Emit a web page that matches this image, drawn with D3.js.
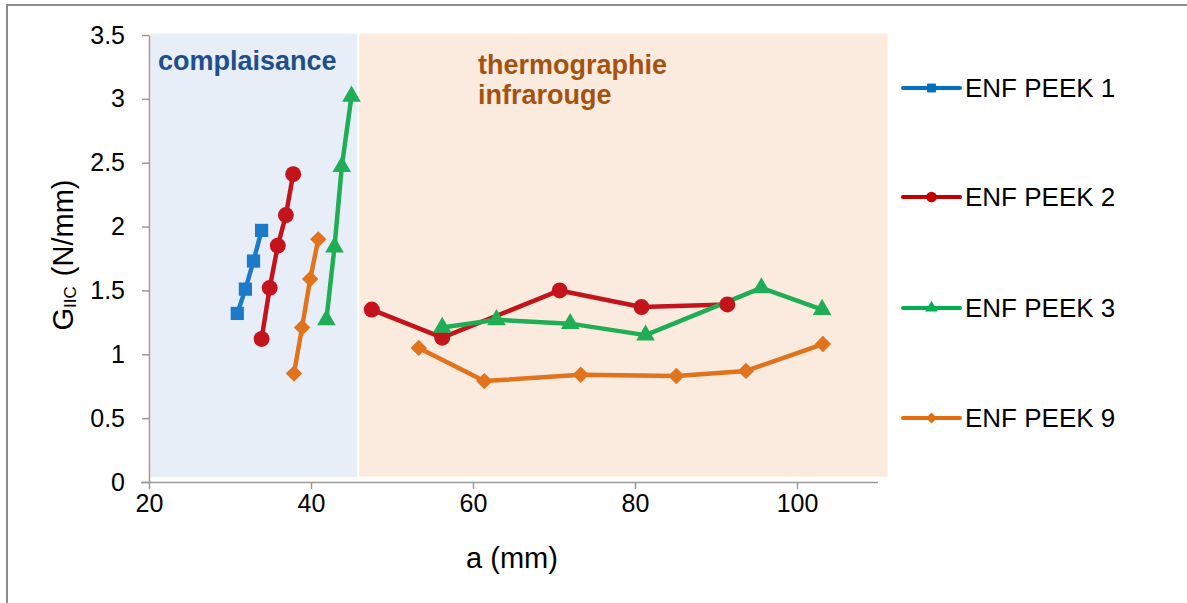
<!DOCTYPE html>
<html>
<head>
<meta charset="utf-8">
<script src="https://cdn.jsdelivr.net/npm/d3@7"></script>
<style>
  body { margin: 0; background: #fff; }
  text { font-family: "Liberation Sans", Arial, sans-serif; }
</style>
</head>
<body>
<div id="chart"></div>
<script>
// Data (a in mm, G_IIC in N/mm) - null splits compliance / thermography parts
const seriesNames = ['ENF PEEK 1', 'ENF PEEK 2', 'ENF PEEK 3', 'ENF PEEK 9']
const aPeek1 = [30.9, 31.9, 32.9, 33.9]
const gPeek1 = [1.32, 1.51, 1.73, 1.97]
const aPeek2 = [33.9, 34.9, 35.9, 36.9, 37.8, null, 47.5, 56.2, 70.7, 80.8, 91.4]
const gPeek2 = [1.12, 1.52, 1.85, 2.09, 2.41, null, 1.35, 1.13, 1.50, 1.37, 1.39]
const aPeek3 = [41.9, 42.9, 43.8, 45.0, null, 56.2, 62.9, 72.0, 81.3, 95.6, 103.1]
const gPeek3 = [1.27, 1.84, 2.47, 3.02, null, 1.21, 1.27, 1.24, 1.15, 1.52, 1.35]
const aPeek9 = [37.9, 38.9, 39.9, 40.9, null, 53.3, 61.4, 73.3, 85.1, 93.7, 103.2]
const gPeek9 = [0.85, 1.21, 1.59, 1.90, null, 1.05, 0.79, 0.84, 0.83, 0.87, 1.08]
const xTicks = [20, 40, 60, 80, 100]
const yTicks = [0, 0.5, 1, 1.5, 2, 2.5, 3, 3.5]
// zones (a range) shaded behind the curves
const zoneNames = ['complaisance', 'thermographie infrarouge']
const zoneStart = [20.2, 45.95]
const zoneEnd = [45.7, 111.2]

const colors = ['#1b7bc8', '#c4141b', '#1fae55', '#e0731c']
const legendColors = ['#0070c0', '#c00000', '#00b050', '#e46c0a']
const zoneFill = ['#e7eef8', '#fbebdf']
const symbols = [d3.symbolSquare, d3.symbolCircle, d3.symbolTriangle, d3.symbolSquare]
const symSize = [175, 200, 150, 135]
const symRotate = [0, 0, 0, 45]

const series = [[aPeek1, gPeek1], [aPeek2, gPeek2], [aPeek3, gPeek3], [aPeek9, gPeek9]]
  .map(([a, g]) => a.map((v, i) => ({ a: v, g: g[i] })))

// Dimensions
const width = 1187, height = 603

const svg = d3.select('#chart').append('svg')
  .attr('width', width)
  .attr('height', height)

// frame (left + top only, like the screenshot)
svg.append('path')
  .attr('d', `M7,${height} V5 H${width}`)
  .attr('fill', 'none')
  .attr('stroke', '#8c8c8c')
  .attr('stroke-width', 2)

// Scales
const xScale = d3.scaleLinear().domain([20, 110]).range([149, 878])
const yScale = d3.scaleLinear().domain([0, 3.5]).range([482, 35])

// zones
svg.selectAll('rect.zone')
  .data(zoneNames)
  .join('rect')
  .attr('class', 'zone')
  .attr('x', (d, i) => xScale(zoneStart[i]))
  .attr('width', (d, i) => xScale(zoneEnd[i]) - xScale(zoneStart[i]))
  .attr('y', yScale(3.51))
  .attr('height', yScale(0.04) - yScale(3.51))
  .attr('fill', (d, i) => zoneFill[i])

svg.append('text')
  .attr('x', 158).attr('y', 70)
  .attr('font-size', 27).attr('font-weight', 'bold')
  .attr('fill', '#1f4e8a')
  .text(zoneNames[0])

const thermo = svg.append('text')
  .attr('x', 478).attr('y', 74)
  .attr('font-size', 27).attr('font-weight', 'bold')
  .attr('fill', '#a4520f')
thermo.append('tspan').attr('x', 478).text('thermographie')
thermo.append('tspan').attr('x', 478).attr('dy', 30).text('infrarouge')

// Axes
const axisColor = '#9a9a9a'
const xAxis = svg.append('g')
  .attr('transform', `translate(0,${yScale(0)})`)
  .call(d3.axisBottom(xScale).tickValues(xTicks).tickSize(7).tickPadding(5).tickSizeOuter(0))
xAxis.select('.domain').attr('d', `M141,0.5H878`)
const yAxis = svg.append('g')
  .attr('transform', `translate(${xScale(20)},0)`)
  .call(d3.axisLeft(yScale).tickValues(yTicks).tickFormat(d => String(d)).tickSize(7).tickPadding(17).tickSizeOuter(0))
  ;[xAxis, yAxis].forEach(ax => {
  ax.select('.domain').attr('stroke', axisColor).attr('stroke-width', 1.5)
  ax.selectAll('.tick line').attr('stroke', axisColor).attr('stroke-width', 1.5)
  ax.selectAll('.tick text')
    .attr('font-size', 25).attr('fill', '#000')
    .attr('font-family', '"Liberation Sans", Arial, sans-serif')
})

// axis titles
svg.append('text')
  .attr('x', 512).attr('y', 568)
  .attr('text-anchor', 'middle')
  .attr('font-size', 29)
  .text('a (mm)')

const yTitle = svg.append('text')
  .attr('transform', 'translate(73,255) rotate(-90)')
  .attr('text-anchor', 'middle')
  .attr('font-size', 29)
yTitle.append('tspan').text('G')
yTitle.append('tspan').attr('font-size', 17).attr('dy', 3).text('IIC')
yTitle.append('tspan').attr('dy', -3).attr('dx', 10).text('(N/mm)')

// Lines
const line = d3.line()
  .defined(d => d.a !== null)
  .x(d => xScale(d.a))
  .y(d => yScale(d.g))

svg.selectAll('path.series')
  .data(series)
  .join('path')
  .attr('class', 'series')
  .attr('d', line)
  .attr('fill', 'none')
  .attr('stroke', (d, i) => colors[i])
  .attr('stroke-width', 4.5)
  .attr('stroke-linejoin', 'round')

// Markers
series.forEach((s, i) => {
  svg.append('g').selectAll('path')
    .data(s.filter(d => d.a !== null))
    .join('path')
    .attr('d', d3.symbol(symbols[i], symSize[i]))
    .attr('transform', d => `translate(${xScale(d.a)},${yScale(d.g)}) rotate(${symRotate[i]})`)
    .attr('fill', colors[i])
})

// Legend
const legendY = [88, 197, 308, 418]
const legend = svg.selectAll('g.legend')
  .data(seriesNames)
  .join('g')
  .attr('class', 'legend')
  .attr('transform', (d, i) => `translate(903,${legendY[i]})`)
legend.append('line')
  .attr('x1', 0).attr('x2', 57)
  .attr('stroke', (d, i) => legendColors[i])
  .attr('stroke-width', 4)
  .attr('stroke-linecap', 'round')
legend.append('path')
  .attr('d', (d, i) => d3.symbol(symbols[i], symSize[i] * 0.45)())
  .attr('transform', (d, i) => `translate(28.5,0) rotate(${symRotate[i]})`)
  .attr('fill', (d, i) => legendColors[i])
legend.append('text')
  .attr('x', 62).attr('dy', '0.35em')
  .attr('font-size', 26)
  .text(d => d)
</script>
</body>
</html>
